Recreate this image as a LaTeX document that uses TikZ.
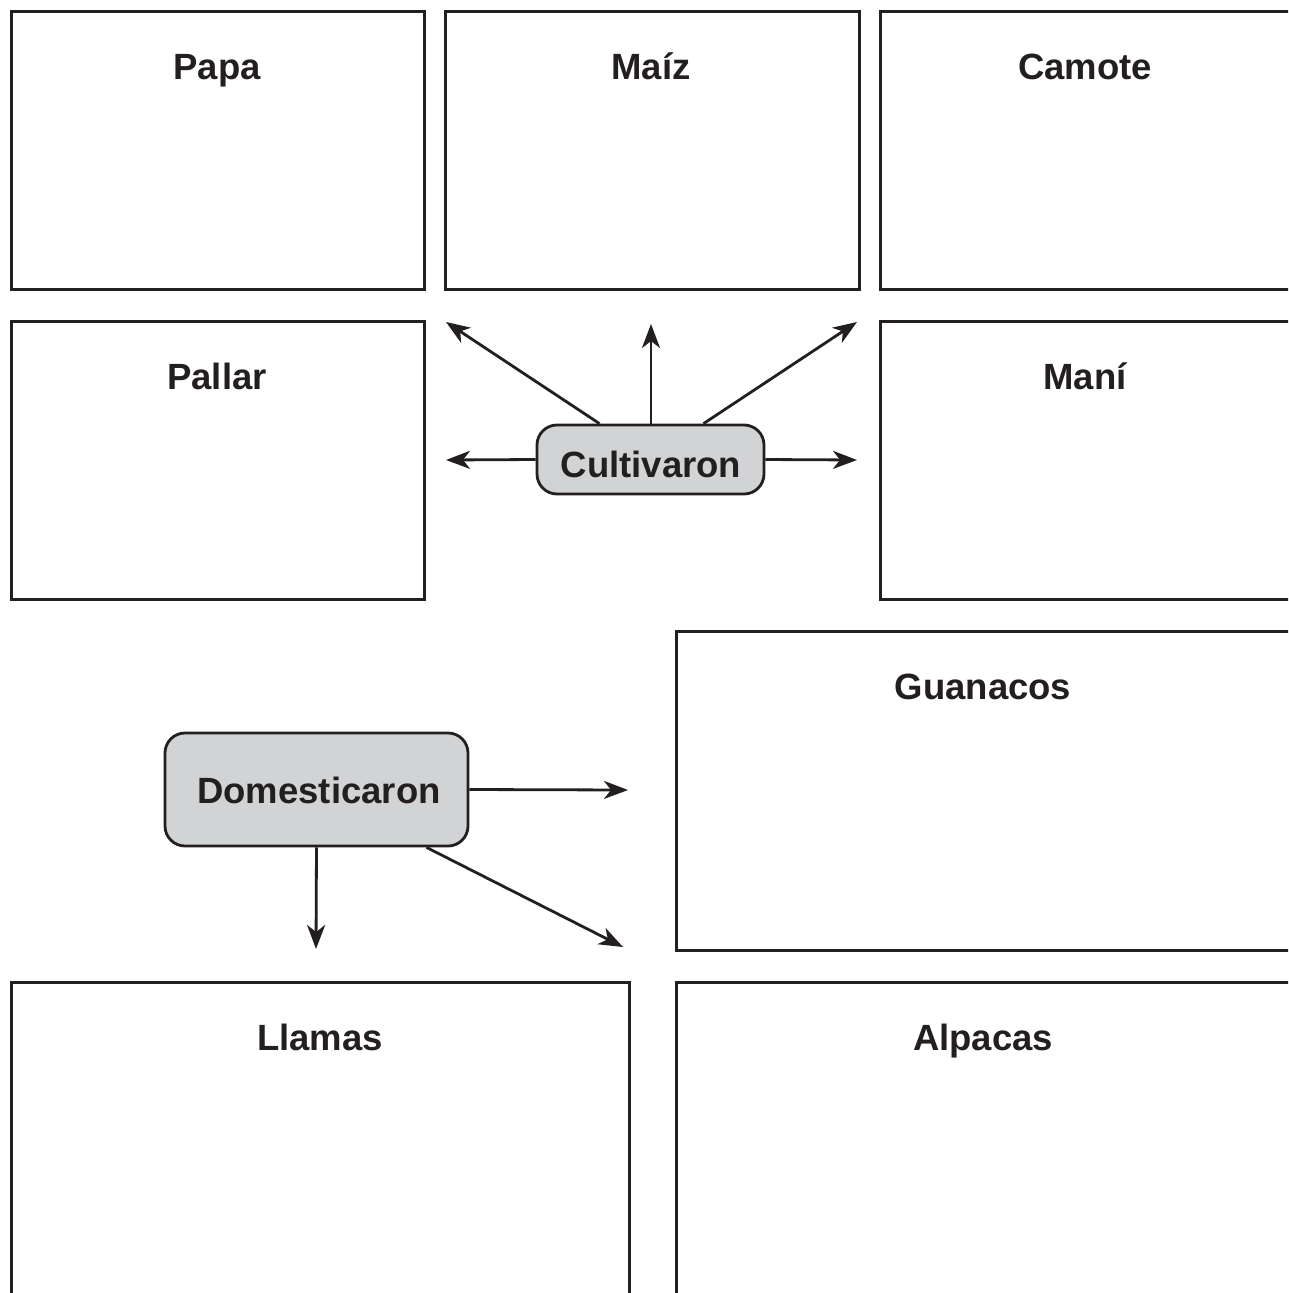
\documentclass[tikz,border=0pt]{standalone}
\usepackage{fontspec}
\setmainfont{Liberation Sans}
\usetikzlibrary{arrows.meta,calc}
\definecolor{ink}{HTML}{231F20}
\definecolor{boxgray}{HTML}{D1D3D4}
\begin{document}
\begin{tikzpicture}[x=1pt,y=-1pt,
  frame/.style={draw=ink,line width=2.8pt,rectangle,inner sep=0pt,anchor=north west},
  lab/.style={font=\fontsize{36.5}{40}\selectfont\bfseries,text=ink,inner sep=0pt,anchor=base},
  hub/.style={draw=ink,line width=2.8pt,fill=boxgray,rounded corners=20pt,inner sep=0pt},
  arr/.style={draw=ink,line width=2.8pt,-{Stealth[length=24pt,width=18pt,inset=7pt]}}]
\clip (0,0) rectangle (1288,1293);
\fill[white] (0,0) rectangle (1288,1293);
% frames
\node[frame,minimum width=413pt,minimum height=278pt] (papa) at (10,10) {};
\node[frame,minimum width=414pt,minimum height=278pt] (maiz) at (444,10) {};
\node[frame,minimum width=500pt,minimum height=278pt] (camote) at (879,10) {};
\node[frame,minimum width=413pt,minimum height=278pt] (pallar) at (10,320) {};
\node[frame,minimum width=500pt,minimum height=278pt] (mani) at (879,320) {};
\node[frame,minimum width=700pt,minimum height=319pt] (guanacos) at (675,630) {};
\node[frame,minimum width=618pt,minimum height=400pt] (llamas) at (10,981) {};
\node[frame,minimum width=700pt,minimum height=400pt] (alpacas) at (675,981) {};
% labels
\node[lab] (tpapa) at (217,79) {Papa};
\node[lab] (tmaiz) at (651,79) {Maíz};
\node[lab] (tcamote) at (1085,79) {Camote};
\node[lab] (tpallar) at (217,389) {Pallar};
\node[lab] (tmani) at (1085,389) {Maní};
\node[lab] (tguan) at (983,699) {Guanacos};
\node[lab] (tllamas) at (320,1050) {Llamas};
\node[lab] (talp) at (983,1050) {Alpacas};
% hubs
\node[hub,minimum width=227pt,minimum height=69pt] (cult) at (650.5,459.5) {};
\node[lab] (tcult) at (651,477) {Cultivaron};
\node[hub,minimum width=303pt,minimum height=113pt] (dom) at (316.5,789.5) {};
\node[lab] (tdom) at (319,803) {Domesticaron};
% free ends
\coordinate (c1) at (446,322);
\coordinate (c2) at (651,324);
\coordinate (c3) at (857,322);
\coordinate (c4) at (446,460);
\coordinate (c5) at (857,460);
\coordinate (d1) at (628,790);
\coordinate (d2) at (316,949);
\coordinate (d3) at (623,947);
% arrows
\draw[arr] ($(cult.north)+(-51,0)$) -- (c1);
\draw[arr] ($(cult.north)+(0.5,0)$) -- (c2);
\draw[arr] ($(cult.north)+(53,0)$) -- (c3);
\draw[arr] (cult.west) -- (c4);
\draw[arr] (cult.east) -- (c5);
\draw[arr] (dom.east) -- (d1);
\draw[arr] (dom.south) -- (d2);
\draw[arr] ($(dom.south)+(110,0)$) -- (d3);
\end{tikzpicture}
\end{document}
